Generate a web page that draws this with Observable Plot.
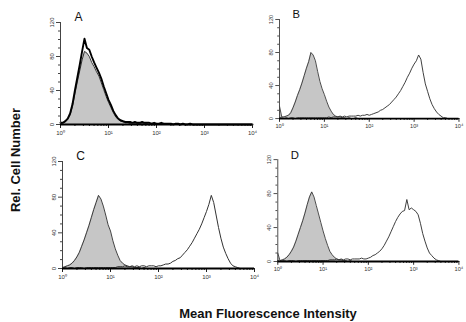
<!DOCTYPE html>
<html>
<head>
<meta charset="utf-8">
<script src="https://cdn.jsdelivr.net/npm/d3@7"></script>
<script src="https://cdn.jsdelivr.net/npm/@observablehq/plot@0.6"></script>
<style>
  html, body { margin: 0; padding: 0; background: #fff; overflow: hidden; }
  #root { position: relative; width: 466px; height: 322px; overflow: hidden; background: #fff; }
  .panel { position: absolute; }
  .lab { position: absolute; font-family: "Liberation Sans", Arial, sans-serif; font-weight: bold; color: #111; white-space: nowrap; }
</style>
</head>
<body>
<div id="root"></div>
<script>
// Histogram bins: log10(fluorescence) from 0 to 4 in steps of 0.05 (81 channels)
const logStep = 0.05;

const panelNames = ["A", "B", "C", "D"];
const yTitle = "Rel. Cell Number";
const xTitle = "Mean Fluorescence Intensity";
const yMajorTicks = [0, 40, 80, 120];
const yMinorTicks = [10, 20, 30, 50, 60, 70, 90, 100, 110];
const xMajorTicks = [1, 10, 100, 1000, 10000];
const xMajorLabels = ["10\u2070", "10\u00b9", "10\u00b2", "10\u00b3", "10\u2074"];
const xMinorTicks = [2,3,4,5,6,7,8,9, 20,30,40,50,60,70,80,90, 200,300,400,500,600,700,800,900, 2000,3000,4000,5000,6000,7000,8000,9000];

// Panel A
const isoA = [1,2,3,6,11,21,36,50,63,76, 86,84,80,73,68,62,57,49,41,33, 26,20,14,9,6,4,3,2,2,1, 2,1,1,1,1,1,1,0,1,0, 0,1,0,0,0,0,0,0,0,0, 0,0,0,0,0,0,0,0,0,0, 0,0,0,0,0,0,0,0,0,0, 0,0,0,0,0,0,0,0,0,0, 0];
const sampleA = [2,2,4,7,13,24,40,55,70,86, 101,90,88,80,73,67,61,54,45,37, 29,23,16,11,7,5,4,3,3,3, 2,3,2,2,3,2,2,2,1,2, 1,1,2,1,1,1,1,0,1,1, 0,1,0,0,1,0,0,0,0,0, 0,0,0,0,0,0,0,0,0,0, 0,0,0,0,0,0,0,0,0,0, 0];
// Panel B
const isoB = [15,2,2,3,4,7,13,20,28,35, 43,52,61,69,80,77,70,57,45,36, 29,21,14,9,5,3,2,2,1,1, 0,1,0,0,1,0,0,0,0,0, 0,0,0,0,0,0,0,0,0,0, 0,0,0,0,0,0,0,0,0,0, 0,0,0,0,0,0,0,0,0,0, 0,0,0,0,0,0,0,0,0,0, 0];
const sampleB = [1,1,0,1,0,1,1,0,1,1, 1,1,1,1,1,1,1,1,1,1, 1,1,2,1,2,2,2,3,2,3, 2,3,3,3,3,4,3,4,4,5, 4,5,6,7,8,10,11,13,15,17, 20,23,26,30,34,39,44,50,55,61, 66,70,77,72,56,42,33,24,17,12, 8,5,3,1,1,0,0,0,0,0, 0];
// Panel C
const isoC = [1,2,3,4,6,9,13,18,25,32, 40,48,57,66,74,82,78,70,60,49, 42,31,22,15,9,6,4,3,2,2, 1,1,1,0,1,0,0,0,0,0, 0,0,0,0,0,0,0,0,0,0, 0,0,0,0,0,0,0,0,0,0, 0,0,0,0,0,0,0,0,0,0, 0,0,0,0,0,0,0,0,0,0, 0];
const sampleC = [0,1,0,1,1,0,1,1,1,0, 1,1,1,1,1,1,1,1,1,1, 1,1,1,2,2,2,3,2,2,3, 2,3,2,3,3,2,3,3,3,2, 3,3,4,5,5,6,8,9,11,12, 15,18,21,25,29,34,39,44,50,57, 64,72,82,74,60,46,34,24,17,11, 6,3,2,1,0,0,0,0,0,0, 0];
// Panel D
const isoD = [10,1,2,3,5,8,12,17,24,32, 40,48,57,67,76,82,76,66,56,46, 36,27,19,12,8,5,3,2,2,1, 1,0,1,0,0,0,0,0,0,0, 0,0,0,0,0,0,0,0,0,0, 0,0,0,0,0,0,0,0,0,0, 0,0,0,0,0,0,0,0,0,0, 0,0,0,0,0,0,0,0,0,0, 0];
const sampleD = [1,0,1,1,0,1,1,1,0,1, 1,1,1,1,1,1,1,1,1,1, 1,1,1,2,2,2,3,2,3,2, 3,3,2,3,3,3,3,4,3,3, 4,5,7,8,10,12,15,19,24,29, 35,41,47,52,56,59,60,73,61,63, 61,59,55,45,33,24,16,10,7,4, 2,1,0,0,0,0,0,0,0,0, 0];

const toRows = arr => arr.map((v, i) => ({x: Math.pow(10, i * logStep), v}));

const panels = [
  {name: panelNames[0], iso: isoA, sample: sampleA, left: 30, top: 5, mt: 17, h: 139, sampleStroke: "#000", sampleWidth: 1.9, isoStroke: "#222"},
  {name: panelNames[1], iso: isoB, sample: sampleB, left: 251, top: 5, mt: 15, h: 141, sampleStroke: "#333", sampleWidth: 1, isoStroke: "#2a2a2a"},
  {name: panelNames[2], iso: isoC, sample: sampleC, left: 32, top: 145, mt: 16, h: 143, sampleStroke: "#333", sampleWidth: 1, isoStroke: "#2a2a2a"},
  {name: panelNames[3], iso: isoD, sample: sampleD, left: 249, top: 145, mt: 15, h: 143, sampleStroke: "#333", sampleWidth: 1, isoStroke: "#2a2a2a"}
];

const root = document.getElementById("root");

for (const p of panels) {
  const iso = toRows(p.iso);
  const sample = toRows(p.sample);
  const chart = Plot.plot({
    width: 230,
    height: p.h,
    marginLeft: 30,
    marginRight: 8,
    marginTop: p.mt,
    marginBottom: 20,
    x: {type: "log", domain: [1, 10000], axis: null},
    y: {domain: [0, 120], axis: null},
    style: {fontFamily: "'Liberation Sans', Arial, sans-serif", background: "transparent", color: "#333", overflow: "visible"},
    marks: [
      Plot.areaY(iso, {x: "x", y: "v", fill: "#c6c6c6"}),
      Plot.lineY(iso, {x: "x", y: "v", stroke: p.isoStroke, strokeWidth: 0.9}),
      Plot.lineY(sample, {x: "x", y: "v", stroke: p.sampleStroke, strokeWidth: p.sampleWidth}),
      Plot.axisX({ticks: xMajorTicks, tickFormat: d => xMajorLabels[xMajorTicks.indexOf(d)], tickSize: 4, tickPadding: 2, fontSize: 6, stroke: "#222", label: null}),
      Plot.axisX({ticks: xMinorTicks, tickFormat: () => "", tickSize: 2, stroke: "#222", label: null}),
      Plot.axisY({ticks: yMajorTicks, tickSize: 4, tickPadding: 3, tickRotate: -90, fontSize: 6, stroke: "#444", label: null}),
      Plot.axisY({ticks: yMinorTicks, tickFormat: () => "", tickSize: 2, stroke: "#444", label: null}),
      Plot.ruleX([1], {stroke: "#444", strokeWidth: 1}),
      Plot.ruleY([0], {stroke: "#000", strokeWidth: 2}),
      Plot.text([p.name], {frameAnchor: "top-left", dx: 18, dy: -5, text: d => d, fontSize: 12, fill: "#111", textAnchor: "middle", lineAnchor: "middle"})
    ]
  });
  const div = document.createElement("div");
  div.className = "panel";
  div.style.left = p.left + "px";
  div.style.top = p.top + "px";
  div.appendChild(chart);
  root.appendChild(div);
}

const yl = document.createElement("div");
yl.className = "lab";
yl.textContent = yTitle;
yl.style.fontSize = "13px";
yl.style.left = "15px";
yl.style.top = "160px";
yl.style.transform = "translate(-50%, -50%) rotate(-90deg)";
root.appendChild(yl);

const xl = document.createElement("div");
xl.className = "lab";
xl.textContent = xTitle;
xl.style.fontSize = "13px";
xl.style.left = "268px";
xl.style.top = "313px";
xl.style.transform = "translate(-50%, -50%)";
root.appendChild(xl);
</script>
</body>
</html>
